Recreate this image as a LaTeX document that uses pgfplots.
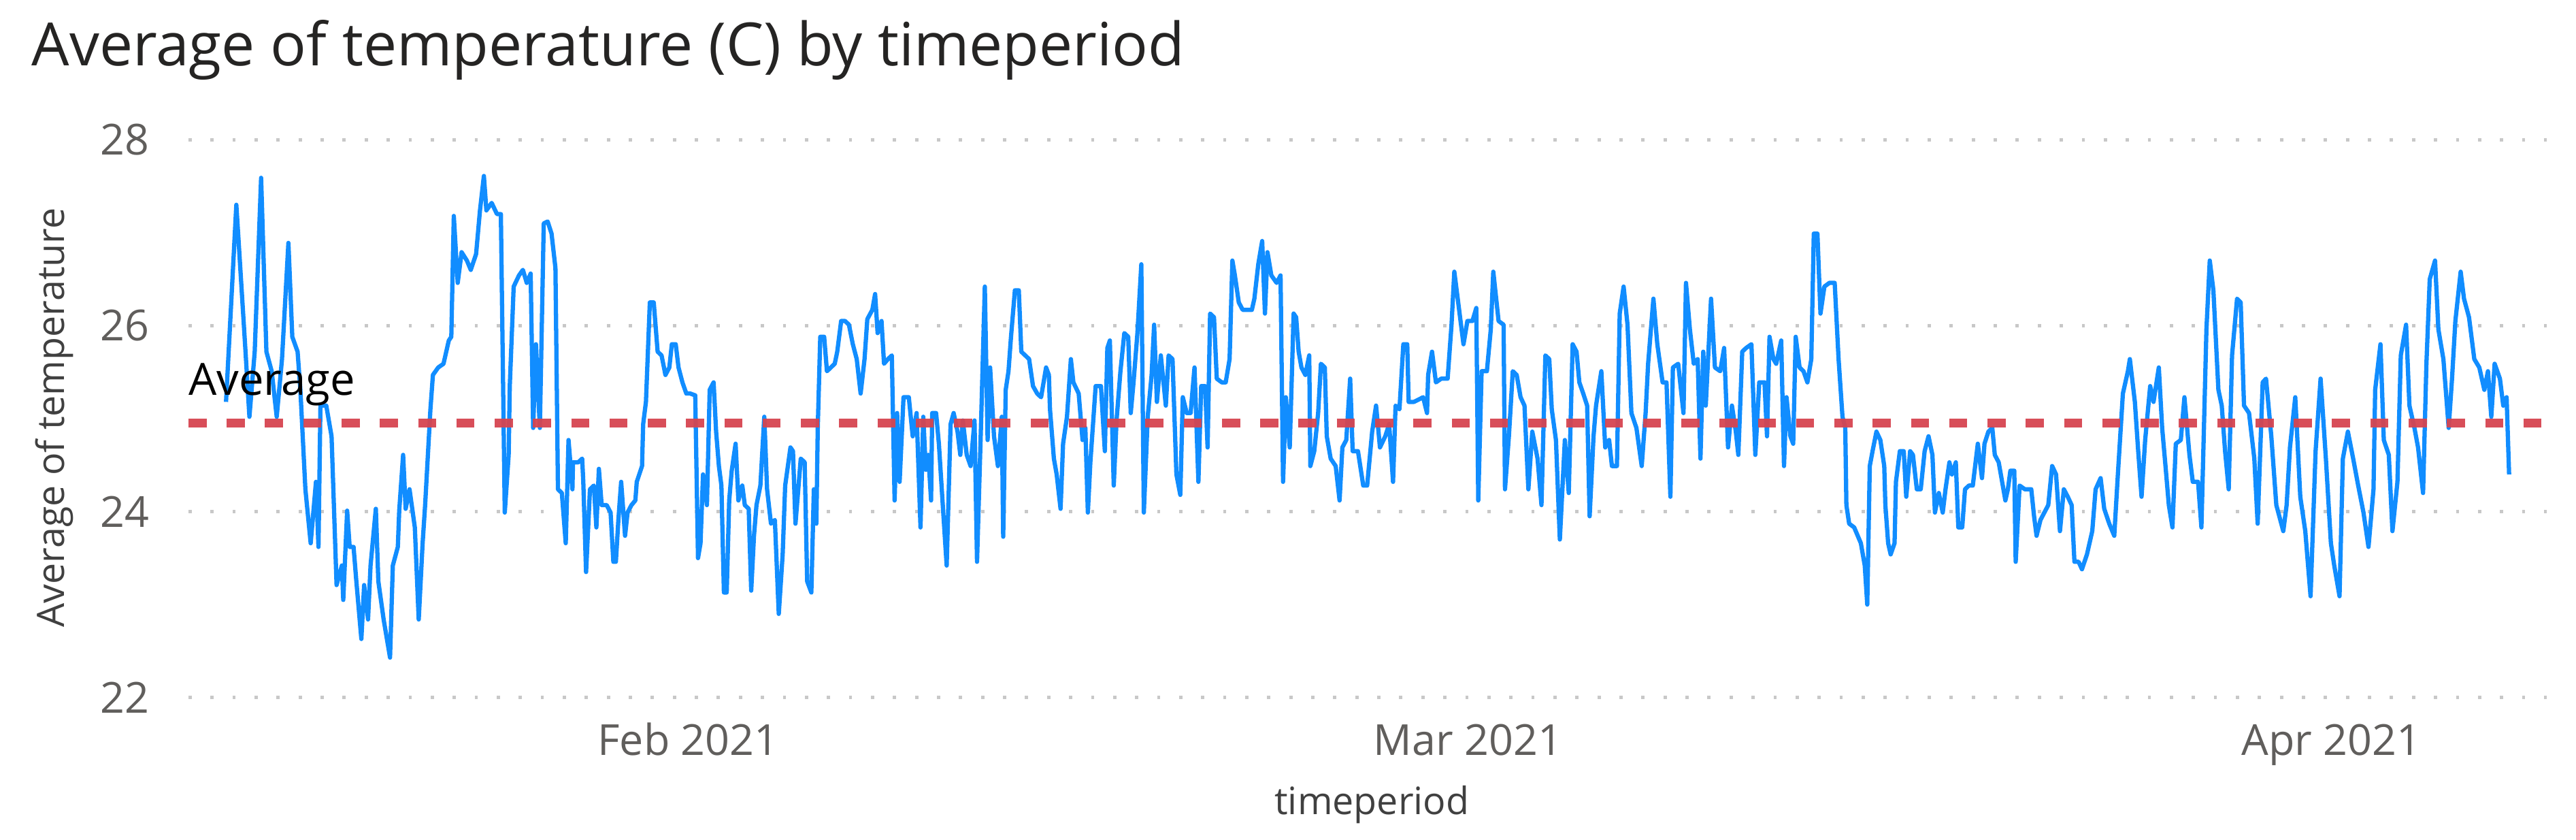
\documentclass[border=0pt]{standalone}
\usepackage{fontspec}
\setmainfont{Open Sans}
\usepackage{pgfplots}
\pgfplotsset{compat=1.18}
\definecolor{pbblue}{HTML}{118DFF}
\definecolor{pbred}{HTML}{D64550}
\definecolor{titlecol}{HTML}{252423}
\definecolor{labcol}{HTML}{404040}
\definecolor{tickcol}{HTML}{605E5C}
\definecolor{gridcol}{HTML}{C8C8C8}
\pgfplotstableread{
d v
-16.60 25.18
-16.23 27.30
-15.90 25.72
-15.76 25.02
-15.57 25.72
-15.34 27.59
-15.15 25.72
-14.96 25.51
-14.78 25.02
-14.59 25.64
-14.36 26.89
-14.22 25.88
-14.03 25.72
-13.93 25.31
-13.75 24.24
-13.56 23.66
-13.37 24.32
-13.28 23.62
-13.21 25.14
-13.00 25.14
-12.81 24.81
-12.63 23.21
-12.44 23.42
-12.39 23.05
-12.25 24.01
-12.16 23.62
-12.02 23.62
-11.92 23.25
-11.74 22.63
-11.64 23.21
-11.50 22.84
-11.41 23.42
-11.22 24.03
-11.13 23.25
-10.94 22.84
-10.71 22.43
-10.61 23.42
-10.43 23.62
-10.38 24.01
-10.24 24.61
-10.15 24.03
-10.01 24.24
-9.82 23.83
-9.68 22.84
-9.54 23.66
-9.45 24.07
-9.26 25.10
-9.17 25.47
-8.98 25.55
-8.79 25.59
-8.60 25.84
-8.51 25.88
-8.42 27.18
-8.28 26.46
-8.14 26.79
-7.95 26.70
-7.81 26.60
-7.62 26.77
-7.48 27.24
-7.34 27.61
-7.25 27.24
-7.06 27.32
-6.87 27.20
-6.73 27.20
-6.59 23.99
-6.45 24.61
-6.41 25.35
-6.27 26.42
-6.08 26.54
-5.94 26.60
-5.80 26.46
-5.66 26.56
-5.57 24.90
-5.47 25.80
-5.33 24.90
-5.19 27.10
-5.05 27.12
-4.91 26.99
-4.77 26.62
-4.68 24.24
-4.54 24.20
-4.40 23.66
-4.30 24.77
-4.16 24.24
-4.14 24.53
-3.95 24.53
-3.81 24.57
-3.77 24.32
-3.67 23.35
-3.53 24.24
-3.39 24.28
-3.30 23.83
-3.21 24.46
-3.11 24.07
-2.93 24.07
-2.79 23.99
-2.69 23.46
-2.60 23.46
-2.51 23.91
-2.41 24.32
-2.27 23.74
-2.18 23.99
-2.04 24.07
-1.90 24.12
-1.85 24.32
-1.66 24.49
-1.62 24.94
-1.52 25.18
-1.38 26.25
-1.24 26.25
-1.10 25.72
-0.96 25.68
-0.82 25.47
-0.68 25.55
-0.59 25.80
-0.45 25.80
-0.35 25.55
-0.21 25.39
-0.07 25.27
0.07 25.27
0.25 25.25
0.35 23.50
0.44 23.66
0.53 24.40
0.67 24.07
0.77 25.31
0.91 25.39
1.00 24.86
1.10 24.49
1.19 24.28
1.28 23.13
1.38 23.13
1.47 24.12
1.56 24.44
1.70 24.73
1.80 24.12
1.94 24.28
2.03 24.07
2.17 24.03
2.26 23.15
2.36 23.74
2.45 24.07
2.59 24.28
2.73 25.02
2.83 24.24
2.97 23.87
3.11 23.91
3.25 22.90
3.39 23.54
3.48 24.28
3.67 24.69
3.76 24.65
3.85 23.87
4.04 24.57
4.18 24.53
4.27 23.25
4.42 23.13
4.51 24.24
4.60 23.87
4.65 24.90
4.74 25.88
4.88 25.88
4.98 25.51
5.12 25.55
5.26 25.59
5.35 25.72
5.49 26.05
5.63 26.05
5.77 26.01
5.91 25.80
6.05 25.64
6.19 25.27
6.33 25.64
6.43 26.07
6.61 26.17
6.71 26.34
6.80 25.92
6.94 26.05
7.03 25.59
7.17 25.64
7.31 25.68
7.41 24.12
7.50 25.06
7.59 24.32
7.73 25.23
7.92 25.23
8.06 24.81
8.20 25.06
8.34 23.83
8.44 25.02
8.53 24.45
8.62 24.61
8.72 24.12
8.76 25.06
8.90 25.06
9.00 24.73
9.14 24.07
9.28 23.42
9.42 24.94
9.53 25.06
9.67 24.86
9.77 24.61
9.86 24.98
10.00 24.61
10.14 24.49
10.28 24.98
10.37 23.46
10.51 24.90
10.65 26.42
10.75 24.77
10.84 25.55
10.98 24.81
11.12 24.49
11.26 25.02
11.31 23.73
11.40 25.31
11.50 25.51
11.59 25.88
11.73 26.38
11.87 26.38
11.96 25.72
12.10 25.68
12.24 25.64
12.38 25.35
12.53 25.27
12.67 25.23
12.85 25.55
12.95 25.47
12.99 25.10
13.13 24.57
13.23 24.40
13.37 24.03
13.46 24.73
13.60 25.02
13.74 25.64
13.83 25.39
14.02 25.27
14.16 24.77
14.26 24.90
14.35 23.99
14.44 24.53
14.63 25.35
14.82 25.35
14.96 24.65
15.05 25.76
15.14 25.84
15.28 24.28
15.38 24.98
15.52 25.51
15.66 25.92
15.80 25.88
15.89 25.06
15.99 25.39
16.13 25.92
16.27 26.66
16.36 23.99
16.50 25.02
16.64 25.47
16.73 26.01
16.83 25.18
16.97 25.68
17.15 25.14
17.25 25.68
17.39 25.64
17.53 24.40
17.67 24.18
17.76 25.23
17.90 25.06
18.04 25.06
18.18 25.55
18.32 24.32
18.42 25.35
18.56 25.35
18.65 24.69
18.74 26.13
18.88 26.09
18.98 25.43
19.16 25.39
19.30 25.39
19.44 25.64
19.54 26.70
19.63 26.54
19.77 26.25
19.91 26.17
20.24 26.17
20.33 26.29
20.47 26.66
20.61 26.91
20.71 26.13
20.80 26.79
20.94 26.54
21.13 26.46
21.27 26.54
21.36 24.32
21.46 25.23
21.60 24.69
21.74 26.13
21.83 26.09
21.92 25.72
22.02 25.55
22.16 25.47
22.30 25.68
22.34 24.49
22.48 24.65
22.62 25.06
22.72 25.59
22.86 25.55
22.93 24.81
23.07 24.57
23.25 24.49
23.39 24.12
23.49 24.69
23.63 24.77
23.77 25.43
23.86 24.65
24.05 24.65
24.24 24.28
24.38 24.28
24.56 24.86
24.70 25.14
24.84 24.69
25.03 24.81
25.17 24.94
25.31 24.32
25.40 25.14
25.54 25.10
25.68 25.80
25.82 25.80
25.87 25.18
26.06 25.18
26.39 25.23
26.53 25.06
26.57 25.47
26.71 25.72
26.85 25.39
27.04 25.43
27.27 25.43
27.41 26.01
27.51 26.58
27.70 26.13
27.84 25.80
27.98 26.05
28.16 26.05
28.30 26.19
28.37 24.12
28.49 25.51
28.68 25.51
28.82 25.96
28.91 26.58
29.10 26.05
29.28 26.01
29.33 24.24
29.47 24.81
29.61 25.51
29.75 25.47
29.89 25.23
30.03 25.14
30.17 24.24
30.31 24.86
30.50 24.57
30.64 24.07
30.78 25.68
30.92 25.64
31.01 25.10
31.16 24.77
31.30 23.70
31.48 24.77
31.62 24.20
31.76 25.80
31.90 25.72
32.00 25.39
32.14 25.27
32.28 25.14
32.37 23.95
32.51 24.81
32.60 25.14
32.79 25.51
32.93 24.69
33.07 24.77
33.17 24.49
33.35 24.49
33.45 26.13
33.59 26.42
33.73 26.01
33.87 25.06
34.05 24.90
34.24 24.49
34.38 25.06
34.47 25.59
34.66 26.29
34.80 25.80
34.99 25.39
35.13 25.39
35.27 24.16
35.36 25.55
35.55 25.59
35.74 25.06
35.83 26.46
35.97 25.96
36.11 25.59
36.25 25.64
36.35 24.57
36.45 25.72
36.54 25.14
36.73 26.29
36.87 25.55
37.06 25.51
37.20 25.76
37.34 24.69
37.48 25.14
37.62 24.86
37.71 24.61
37.85 25.72
37.99 25.76
38.18 25.80
38.32 24.61
38.46 25.39
38.65 25.39
38.74 24.81
38.83 25.88
38.97 25.64
39.07 25.59
39.25 25.84
39.35 24.49
39.44 25.23
39.58 24.81
39.68 24.73
39.77 25.88
39.91 25.55
40.05 25.51
40.19 25.39
40.33 25.64
40.42 26.99
40.55 26.99
40.66 26.13
40.80 26.42
40.98 26.46
41.17 26.46
41.31 25.64
41.45 25.02
41.55 24.90
41.59 24.07
41.69 23.87
41.87 23.83
42.11 23.66
42.25 23.42
42.34 23.00
42.43 24.49
42.53 24.65
42.67 24.86
42.81 24.77
42.95 24.49
42.99 24.07
43.09 23.66
43.18 23.54
43.32 23.66
43.37 24.32
43.51 24.65
43.65 24.65
43.74 24.16
43.88 24.65
43.98 24.61
44.12 24.24
44.26 24.24
44.40 24.65
44.54 24.81
44.68 24.61
44.77 23.99
44.91 24.20
45.05 23.99
45.15 24.24
45.29 24.53
45.38 24.40
45.52 24.53
45.61 23.83
45.75 23.83
45.85 24.24
45.99 24.28
46.13 24.28
46.31 24.73
46.46 24.36
46.55 24.73
46.69 24.86
46.83 24.90
46.92 24.61
47.06 24.53
47.16 24.36
47.30 24.12
47.39 24.24
47.48 24.44
47.62 24.44
47.67 23.46
47.81 24.28
48.00 24.24
48.23 24.24
48.33 23.95
48.42 23.74
48.56 23.91
48.70 23.99
48.84 24.07
48.98 24.49
49.12 24.40
49.26 23.79
49.40 24.24
49.54 24.16
49.68 24.07
49.78 23.46
49.93 23.46
50.05 23.38
50.23 23.54
50.42 23.79
50.54 24.24
50.72 24.36
50.85 24.03
51.03 23.87
51.21 23.74
51.34 24.40
51.52 25.27
51.70 25.51
51.77 25.64
51.95 25.18
52.07 24.65
52.19 24.16
52.32 24.77
52.50 25.35
52.62 25.18
52.81 25.55
52.93 24.90
53.05 24.49
53.17 24.07
53.30 23.83
53.42 24.73
53.60 24.77
53.73 25.23
53.91 24.61
54.03 24.32
54.22 24.32
54.34 23.83
54.52 25.96
54.64 26.70
54.77 26.38
54.95 25.31
55.07 25.14
55.19 24.65
55.32 24.24
55.44 25.68
55.62 26.29
55.75 26.25
55.87 25.14
56.05 25.06
56.24 24.57
56.36 23.87
56.54 25.39
56.66 25.43
56.85 24.81
57.03 24.07
57.28 23.79
57.40 24.07
57.52 24.69
57.71 25.23
57.89 24.16
58.07 23.79
58.26 23.09
58.44 24.65
58.62 25.43
58.81 24.57
58.99 23.66
59.11 23.42
59.30 23.09
59.42 24.57
59.60 24.86
59.79 24.57
59.97 24.28
60.16 23.99
60.34 23.62
60.52 24.24
60.58 25.31
60.77 25.80
60.89 24.77
61.07 24.61
61.20 23.79
61.38 24.32
61.50 25.68
61.69 26.01
61.81 25.14
61.99 24.90
62.12 24.69
62.30 24.20
62.42 25.59
62.54 26.50
62.73 26.70
62.85 25.96
63.03 25.64
63.22 24.90
63.34 25.43
63.46 26.05
63.65 26.58
63.77 26.29
63.95 26.09
64.14 25.64
64.32 25.55
64.50 25.31
64.63 25.51
64.75 25.02
64.87 25.59
65.06 25.43
65.18 25.14
65.30 25.23
65.39 24.40
}\temps
\pgfplotstableread{
d v
-17.95 24.95
66.73 24.95
}\avgline
\begin{document}
\begin{tikzpicture}
\useasboundingbox (0pt,0pt) rectangle (1568pt,511pt);
\begin{axis}[
  at={(114.7pt,86.6pt)}, anchor=south west,
  scale only axis, width=1435.3pt, height=339.4pt,
  xmin=-17.95, xmax=66.73, ymin=22, ymax=28,
  clip=false,
  axis line style={draw=none},
  tick style={draw=none},
  major tick length=0pt,
  xtick={0,28,59}, xticklabels={Feb 2021,Mar 2021,Apr 2021},
  ytick={22,24,26,28},
  ymajorgrids,
  major grid style={gridcol, line width=2.2pt, dash pattern=on 2pt off 11.4pt},
  /pgf/number format/assume math mode=true,
  ticklabel style={font=\fontsize{26}{30}\selectfont, text=tickcol, inner sep=0pt},
  xticklabel style={anchor=base, yshift=-35.3pt},
  yticklabel style={anchor=east, xshift=-23.7pt},
  title={Average of temperature (C) by timeperiod},
  title style={at={(axis description cs:-0.0666,1.1155)}, anchor=base west, yshift=0pt, inner sep=0pt, font=\fontsize{36.3}{43}\selectfont, text=titlecol},
  xlabel={timeperiod},
  xlabel style={at={(axis description cs:0.5019,-0.2098)}, anchor=base, inner sep=0pt, font=\fontsize{23}{28}\selectfont, text=labcol},
  ylabel={Average of temperature},
  ylabel style={at={(axis description cs:-0.0526,0.502)}, anchor=base, inner sep=0pt, font=\fontsize{23}{28}\selectfont, text=labcol},
]
\addplot[pbblue, line width=2.6pt, line join=round] table[x=d, y=v] {\temps};
\addplot[pbred, opacity=0.95, line width=5.5pt, dash pattern=on 11pt off 12.3pt] table[x=d, y=v] {\avgline};
\node[anchor=base west, inner sep=0pt, font=\fontsize{27}{32}\selectfont, text=black, yshift=17.2pt] at (axis cs:-17.95,24.95) {Average};
\end{axis}
\end{tikzpicture}
\end{document}
